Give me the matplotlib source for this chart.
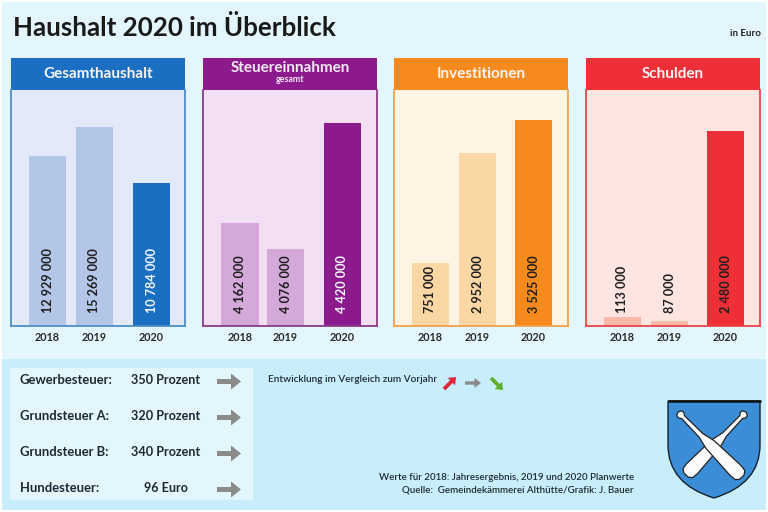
import matplotlib
matplotlib.use("Agg")
import matplotlib.pyplot as plt
from matplotlib.patches import Rectangle, FancyArrow, PathPatch, Polygon
from matplotlib.path import Path
import numpy as np

plt.rcParams['font.family'] = ['Lato', 'DejaVu Sans']

# ---- data -------------------------------------------------------------
years = ["2018", "2019", "2020"]
panel_titles = ["Gesamthaushalt", "Steuereinnahmen", "Investitionen", "Schulden"]
gesamt_labels = ["12 929 000", "15 269 000", "10 784 000"]
steuer_labels = ["4 162 000", "4 076 000", "4 420 000"]
invest_labels = ["751 000", "2 952 000", "3 525 000"]
schulden_labels = ["113 000", "87 000", "2 480 000"]
# bar lengths as drawn in the picture (the original is not to one scale)
gesamt_heights = [170, 199, 143]
steuer_heights = [103, 77, 203]
invest_heights = [63, 173, 206]
schulden_heights = [9, 5, 195]
tax_names = ["Gewerbesteuer:", "Grundsteuer A:", "Grundsteuer B:", "Hundesteuer:"]
tax_values = ["350 Prozent", "320 Prozent", "340 Prozent", "96 Euro"]

W, H = 768, 512
fig = plt.figure(figsize=(W/100, H/100), dpi=100, facecolor="white")
bg = fig.add_axes([0, 0, 1, 1])
bg.set_xlim(0, W); bg.set_ylim(H, 0); bg.axis("off")

bg.add_patch(Rectangle((2, 2), 764, 357, fc="#e3f5fd", ec="none"))
bg.add_patch(Rectangle((2, 359), 764, 151, fc="#c8edfb", ec="none"))
bg.add_patch(Rectangle((10, 368), 243, 132, fc="#e3f5fd", ec="none"))

bg.text(13, 28, "Haushalt 2020 im Überblick", fontsize=18.6, fontweight="bold",
        color="#1a1a1a", va="center", ha="left")
bg.text(745, 33, "in Euro", fontsize=7, fontweight="bold", color="#222222", va="center", ha="center")

panels = [
    dict(x=11, head="#1b6fc2", edge="#4f8fc4", body="#e3e9f8", light="#b3c6e8", dark="#1b6fc2",
         centers=[47.5, 94.5, 151.5], widths=[37, 37, 37], h=gesamt_heights, l=gesamt_labels),
    dict(x=203, head="#8d1a8c", edge="#8d3a8c", body="#f2dff3", light="#d4a9d9", dark="#8d1a8c",
         centers=[240, 285.5, 342.5], widths=[38, 37, 37], h=steuer_heights, l=steuer_labels),
    dict(x=394, head="#f78a1d", edge="#f2a24e", body="#fff3e2", light="#fcd7a6", dark="#f78a1d",
         centers=[430.5, 477.5, 533.5], widths=[37, 37, 37], h=invest_heights, l=invest_labels),
    dict(x=586, head="#ee2f37", edge="#e8444a", body="#ffe5df", light="#f8b9a9", dark="#ee2f37",
         centers=[622.5, 669.5, 725.5], widths=[37, 37, 37], h=schulden_heights, l=schulden_labels),
]
PW = 174
TOP, HEADB, BOT = 58, 90, 326

for n_p, (p, title) in enumerate(zip(panels, panel_titles)):
    x = p["x"]
    bg.add_patch(Rectangle((x, HEADB), PW, BOT-HEADB, fc=p["body"], ec="none"))
    bg.add_patch(Rectangle((x, TOP), PW, HEADB-TOP, fc=p["head"], ec="none"))
    ax = fig.add_axes([x/W, 1-BOT/H, PW/W, (BOT-HEADB)/H])
    ax.set_xlim(x, x+PW); ax.set_ylim(0, BOT-HEADB)
    ax.patch.set_alpha(0)
    ax.set_xticks([]); ax.set_yticks([])
    for s in ax.spines.values():
        s.set_color(p["edge"]); s.set_linewidth(1.3)
    ax.spines["top"].set_visible(False)
    colors = [p["light"], p["light"], p["dark"]]
    ax.bar(p["centers"], p["h"], width=p["widths"], color=colors, linewidth=0)
    for i, (c, lab) in enumerate(zip(p["centers"], p["l"])):
        light_text = i == 2 and n_p < 2
        ax.text(c, 13, lab, rotation=90, ha="center", va="bottom", fontsize=9.1, fontweight="bold",
                color="#f2f6fb" if light_text else "#1f1f1f")
        bg.text(c, 337.5, years[i], ha="center", va="center", fontsize=7.8, fontweight="bold", color="#2a2a2a")
    cx = x + PW/2
    if title == "Steuereinnahmen":
        bg.text(cx, 68.5, title, ha="center", va="center", color="#f3e8f5", fontsize=11, fontweight="bold")
        bg.text(cx, 80, "gesamt", ha="center", va="center", color="#f3e8f5", fontsize=6.4, fontweight="bold")
    else:
        bg.text(cx, 73.5, title, ha="center", va="center", color="#f5f5f5", fontsize=11, fontweight="bold")

# tax table
ys = [380.5, 416.5, 452.5, 488.5]
for y, n, v in zip(ys, tax_names, tax_values):
    bg.text(20, y, n, ha="left", va="center", fontsize=9.4, fontweight="bold", color="#1e2a33")
    bg.text(166, y, v, ha="center", va="center", fontsize=9.1, fontweight="bold", color="#1e2a33")
    bg.add_patch(FancyArrow(217, y+1, 24, 0, width=5, head_width=16, head_length=10,
                            length_includes_head=True, fc="#8a8a8a", ec="none"))

# legend row
bg.text(268, 380, "Entwicklung im Vergleich zum Vorjahr", ha="left", va="center", fontsize=7.2, color="#1e2a33",
        fontweight="semibold")
bg.add_patch(FancyArrow(444, 389, 12, -12, width=3.8, head_width=10.5, head_length=6.5,
                        length_includes_head=True, fc="#e0283a", ec="none"))
bg.add_patch(FancyArrow(465, 383, 16, 0, width=3.4, head_width=10, head_length=6.5,
                        length_includes_head=True, fc="#8a8a8a", ec="none"))
bg.add_patch(FancyArrow(491, 378, 12, 12, width=3.8, head_width=10.5, head_length=6.5,
                        length_includes_head=True, fc="#5db030", ec="none"))

# notes
bg.text(634, 477, "Werte für 2018: Jahresergebnis, 2019 und 2020 Planwerte", ha="right", va="center",
        fontsize=7.05, color="#1e2a33", fontweight="semibold")
bg.text(634, 490.5, "Quelle:  Gemeindekämmerei Althütte/Grafik: J. Bauer", ha="right", va="center",
        fontsize=7.05, color="#1e2a33", fontweight="semibold")

# coat of arms
codes = [Path.MOVETO, Path.LINETO, Path.LINETO, Path.CURVE3, Path.CURVE3,
         Path.CURVE3, Path.CURVE3, Path.LINETO, Path.CLOSEPOLY]
verts = [(668, 401), (760, 401), (760, 445), (760, 484), (714, 498),
         (668, 484), (668, 445), (668, 401), (668, 401)]
bg.add_patch(PathPatch(Path(verts, codes), fc="#3b8dd8", ec="#15202b", lw=1.0, zorder=3))
bg.plot([667.5, 760.5], [401, 401], color="#101010", lw=1.8, zorder=4, solid_capstyle="butt")


def club(p0, p1):
    p0, p1 = np.array(p0, float), np.array(p1, float)
    d = p1-p0; L = np.hypot(*d); u = d/L; n = np.array([-u[1], u[0]])
    prof = [(0, 0), (0.02, 3.6), (0.05, 3.8), (0.08, 2.0), (0.36, 2.6), (0.50, 5.6),
            (0.90, 7.4), (0.97, 6.6), (1.0, 3.0)]
    up = [p0+u*t*L+n*w for t, w in prof]
    dn = [p0+u*t*L-n*w for t, w in prof][::-1]
    bg.add_patch(Polygon(up+dn, closed=True, fc="#fbfbfb", ec="#222222", lw=0.9, zorder=5, joinstyle="round"))


club((746, 412), (686, 475))
club((678, 412), (742, 477))
fig.savefig("out.png", dpi=100, facecolor=fig.get_facecolor())
